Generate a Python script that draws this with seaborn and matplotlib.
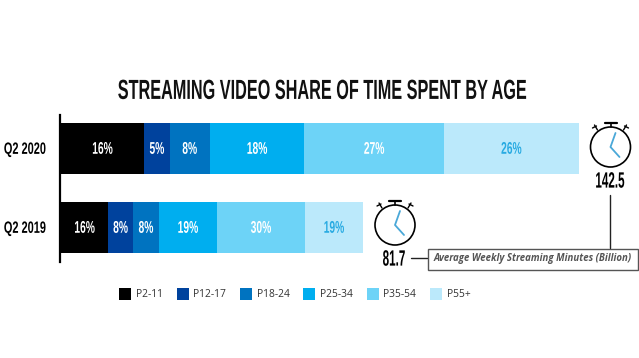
import numpy as np
import pandas as pd
import seaborn as sns
import matplotlib.pyplot as plt
import matplotlib.patheffects as pe
from matplotlib.patches import Circle, Rectangle
from matplotlib.transforms import Affine2D

quarters = ["Q2 2020", "Q2 2019"]
ages = ["P2-11", "P12-17", "P18-24", "P25-34", "P35-54", "P55+"]
# drawn bar lengths, Q2 2020 full bar = 100
lengths_2020 = [16.0, 5.0, 7.7, 18.3, 26.9, 26.1]
lengths_2019 = [9.1, 4.8, 5.0, 11.2, 17.0, 11.2]
shares_2020 = ["16%", "5%", "8%", "18%", "27%", "26%"]
shares_2019 = ["16%", "8%", "8%", "19%", "30%", "19%"]
minutes = ["142.5", "81.7"]
colors = ["#000000", "#00429d", "#0073c0", "#00aeef", "#6dd3f7", "#bbe9fb"]
label_colors = ["white", "white", "white", "white", "white", "#29abe2"]


# Stretch glyphs upward to get the tall condensed look, no such font is installed
class Tall(pe.AbstractPathEffect):
    def __init__(self, sy):
        super().__init__()
        self.sy = sy

    def draw_path(self, renderer, gc, tpath, affine, rgbFace=None):
        ext = tpath.get_extents()
        cy = (ext.y0 + ext.y1) / 2
        tall = Affine2D().translate(0, -cy).scale(1, self.sy).translate(0, cy)
        renderer.draw_path(gc, tpath, tall + affine, rgbFace)


display = ["Liberation Sans", "DejaVu Sans"]

sns.set_theme(style="white")
plt.rcParams["font.family"] = ["Open Sans", "DejaVu Sans"]

fig = plt.figure(figsize=(6.39, 3.58), dpi=100)
W, H = 639, 358
ax = fig.add_axes([60 / W, 1 - 262 / H, (W - 60) / W, 147 / H])

df = pd.DataFrame({"2020": lengths_2020, "2019": lengths_2019}, index=ages)
left = np.zeros(2)
for i, age in enumerate(ages):
    vals = df.loc[age].values
    sns.barplot(x=vals, y=quarters, left=left, color=colors[i], saturation=1,
                width=0.645, label=age, legend=False, linewidth=0, ax=ax)
    for j, share in enumerate([shares_2020[i], shares_2019[i]]):
        ax.text(left[j] + vals[j] / 2, j, share, color=label_colors[i], ha="center", va="center",
                family=display, weight="bold", fontsize=7.4, path_effects=[Tall(1.65)])
    left = left + vals

ax.set_xlim(-0.2, 111.6)
ax.set_ylim(1.437, -0.424)
ax.set_xlabel("")
ax.set_ylabel("")
ax.set_xticks([])
sns.despine(ax=ax, top=True, right=True, bottom=True)
ax.spines["left"].set_linewidth(1.6)
ax.spines["left"].set_color("black")
ax.tick_params(axis="y", length=0, pad=10)
for t in ax.get_yticklabels():
    t.set_family(display)
    t.set_weight("bold")
    t.set_fontsize(7.9)
    t.set_color("black")
    t.set_path_effects([Tall(1.5)])

ax.legend(loc="center left", bbox_to_anchor=(119 / W, 1 - 294 / H),
          bbox_transform=fig.transFigure, ncol=6, frameon=False, fontsize=7.4,
          handlelength=1.17, handleheight=1.52, handletextpad=0.45,
          columnspacing=1.35, borderpad=0, borderaxespad=0, labelcolor="#333333")

# overlay in pixel coordinates for the clocks and callout
ov = fig.add_axes([0, 0, 1, 1], facecolor="none")
ov.set_xlim(0, W)
ov.set_ylim(H, 0)
ov.axis("off")

fig.text(322.5 / W, 1 - 90.5 / H, "STREAMING VIDEO SHARE OF TIME SPENT BY AGE", ha="center",
         va="center", family=display, weight="bold", fontsize=11.7, color="#111111",
         path_effects=[Tall(1.7)])


def stopwatch(cx, cy):
    ov.add_patch(Circle((cx, cy), 20, fill=False, ec="black", lw=1.2))
    ov.plot([cx - 6, cx + 6], [cy - 24, cy - 24], color="black", lw=1.6)
    ov.plot([cx, cx], [cy - 24, cy - 20], color="black", lw=1.2)
    ov.plot([cx - 16, cx - 13], [cy - 22, cy - 17], color="black", lw=1)
    ov.plot([cx - 18, cx - 14], [cy - 19, cy - 21], color="black", lw=1)
    ov.plot([cx + 16, cx + 13], [cy - 22, cy - 17], color="black", lw=1)
    ov.plot([cx + 18, cx + 14], [cy - 19, cy - 21], color="black", lw=1)
    ov.plot([cx + 5, cx, cx + 9], [cy - 14, cy, cy + 10], color="#4aa8d8", lw=1.3)


stopwatch(610.5, 147)
stopwatch(395, 225)

ov.text(610, 181, minutes[0], ha="center", va="center", family=display, fontsize=8.4,
        weight="bold", color="black", path_effects=[Tall(1.9)])
ov.text(394, 259, minutes[1], ha="center", va="center", family=display, fontsize=8.4,
        weight="bold", color="black", path_effects=[Tall(1.9)])

ov.plot([610, 610], [195, 248], color="#222222", lw=1)
ov.plot([411, 427], [258, 258], color="#222222", lw=1)
ov.add_patch(Rectangle((427.5, 248.5), 210, 21, fc="white", ec="#555555", lw=1))
ov.text(532.5, 259, "Average Weekly Streaming Minutes (Billion)", ha="center", va="center",
        fontsize=6.9, style="italic", weight="bold", stretch="normal", color="#555555")

fig.savefig("out.png", dpi=100)
